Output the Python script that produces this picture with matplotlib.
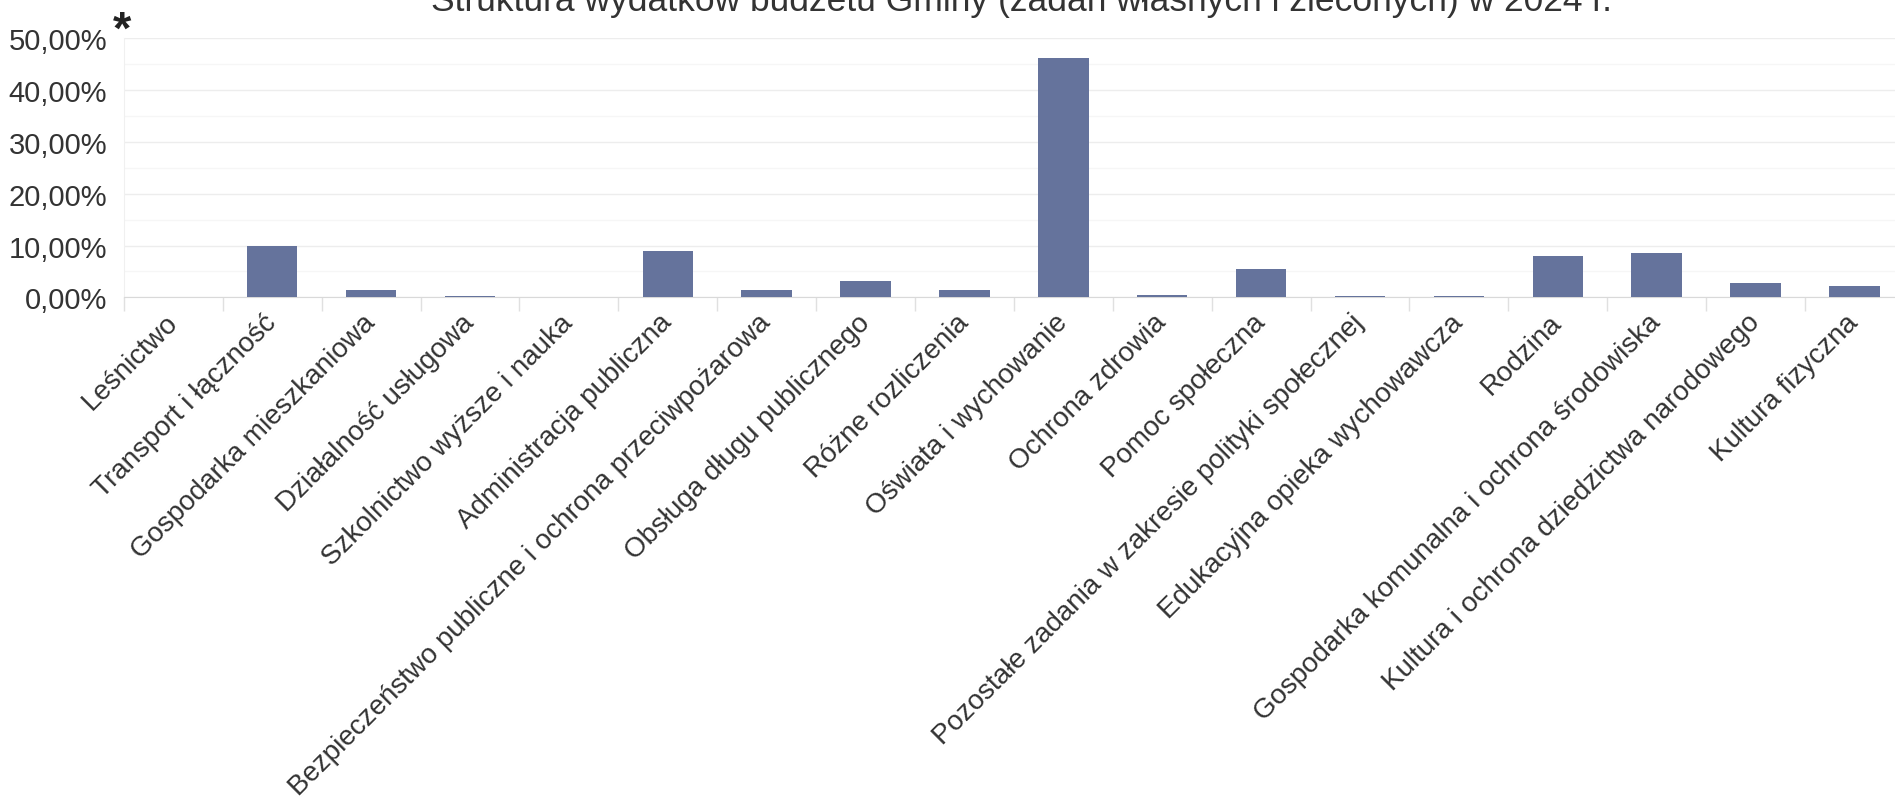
import matplotlib
matplotlib.use("Agg")
import matplotlib.pyplot as plt
from matplotlib.ticker import FuncFormatter, MultipleLocator, FixedLocator
import numpy as np

# ---- data ----
categories = [
    "Leśnictwo",
    "Transport i łączność",
    "Gospodarka mieszkaniowa",
    "Działalność usługowa",
    "Szkolnictwo wyższe i nauka",
    "Administracja publiczna",
    "Bezpieczeństwo publiczne i ochrona przeciwpożarowa",
    "Obsługa długu publicznego",
    "Różne rozliczenia",
    "Oświata i wychowanie",
    "Ochrona zdrowia",
    "Pomoc społeczna",
    "Pozostałe zadania w zakresie polityki społecznej",
    "Edukacyjna opieka wychowawcza",
    "Rodzina",
    "Gospodarka komunalna i ochrona środowiska",
    "Kultura i ochrona dziedzictwa narodowego",
    "Kultura fizyczna",
]
shares = [0.01, 10.0, 1.38, 0.3, 0.02, 8.88, 1.43, 3.08, 1.43,
          46.2, 0.48, 5.47, 0.34, 0.27, 7.95, 8.48, 2.82, 2.25]
yticks = [0, 10, 20, 30, 40, 50]
title = "Struktura wydatków budżetu Gminy (zadań własnych i zleconych) w 2024 r."

plt.rcParams["font.family"] = ["Liberation Sans", "DejaVu Sans"]
text_col = "#333333"
bar_col = "#65739c"

fig = plt.figure(figsize=(18.95, 8.03), dpi=100)
ax = fig.add_axes([0.0654, 0.6284, 0.9393, 0.323])

x = np.arange(len(categories))
ax.bar(x, shares, width=0.51, color=bar_col, zorder=3)

ax.set_xlim(-0.5, len(categories) - 0.5)
ax.set_ylim(0, 50)

# y axis
ax.set_yticks(yticks)
ax.yaxis.set_minor_locator(MultipleLocator(5))
ax.yaxis.set_major_formatter(FuncFormatter(lambda v, p: f"{v:.2f}".replace(".", ",") + "%"))
ax.tick_params(axis="y", which="both", length=0, pad=12, labelsize=21, labelcolor=text_col)
ax.grid(axis="y", which="major", color="#ededed", linewidth=1.0, zorder=0)
ax.grid(axis="y", which="minor", color="#f6f6f6", linewidth=1.0, zorder=0)

# x axis: labels at centres, small tick marks at category boundaries
ax.set_xticks(x)
ax.set_xticklabels(categories, rotation=45, ha="right", va="center",
                   rotation_mode="anchor")
ax.xaxis.set_minor_locator(FixedLocator(np.arange(-0.5, len(categories), 1.0)))
ax.tick_params(axis="x", which="major", length=0, pad=15, labelsize=20, labelcolor=text_col)
ax.tick_params(axis="x", which="minor", length=10, width=1, color="#e0e0e0")

for s in ["top", "right"]:
    ax.spines[s].set_visible(False)
ax.spines["left"].set_color("#f0f0f0")
ax.spines["bottom"].set_color("#d9d9d9")

fig.text(0.539, 1 - 11 / 803, title, ha="center", va="baseline",
         fontsize=25.5, color=text_col)
fig.text(0.0644, 0.96, "*", ha="center", va="center",
         fontsize=34, fontweight="bold", color="#222222")

fig.savefig("out.png", dpi=100, facecolor="white")
